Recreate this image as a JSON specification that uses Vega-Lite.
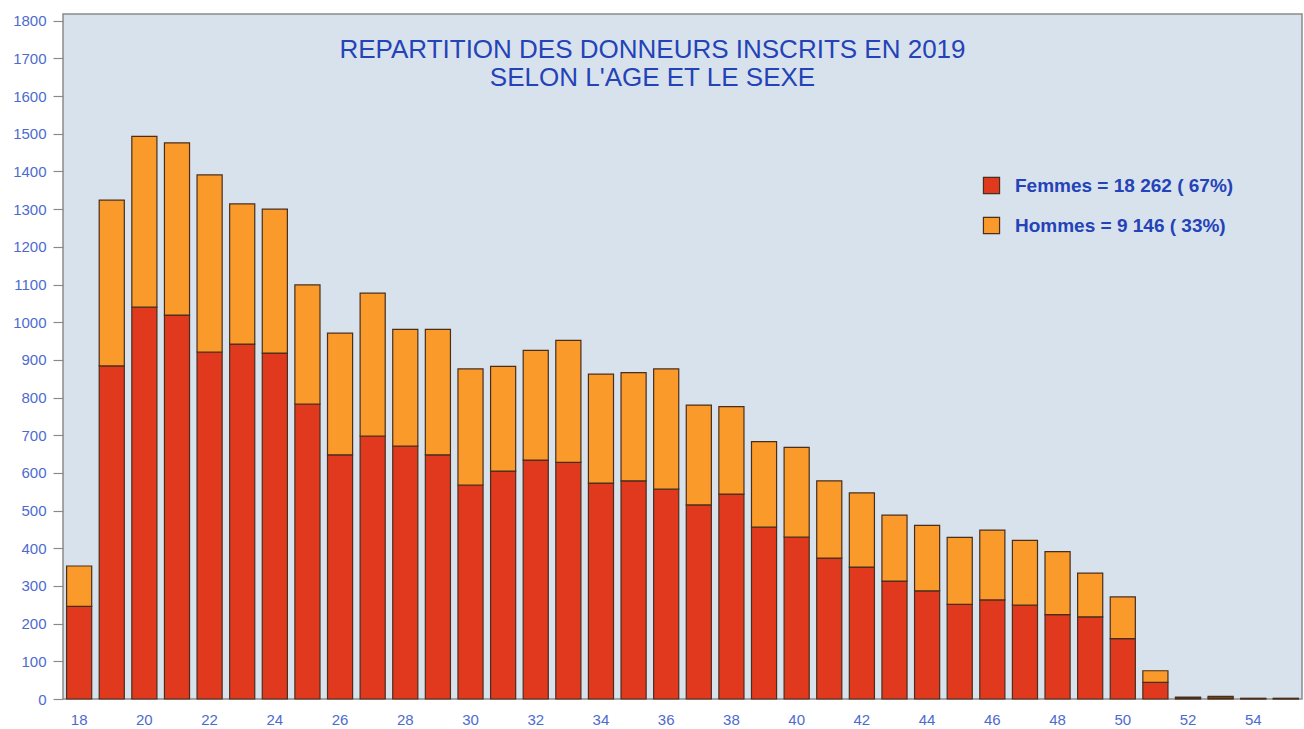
{
  "$schema": "https://vega.github.io/schema/vega-lite/v6.json",
  "width": 1239,
  "height": 685,
  "autosize": "none",
  "padding": {"left": 63, "top": 14, "right": 2, "bottom": 30},
  "background": "#ffffff",
  "title": {
    "text": ["REPARTITION DES DONNEURS INSCRITS EN 2019", "SELON L'AGE ET LE SEXE"],
    "anchor": "middle",
    "frame": "group",
    "orient": "top",
    "baseline": "top",
    "dy": 81,
    "dx": -30,
    "font": "Liberation Sans",
    "fontSize": 26,
    "fontWeight": "normal",
    "color": "#2443B8",
    "lineHeight": 28
  },
  "config": {
    "view": {"fill": "#D8E2EC", "stroke": "#8a8a8a", "strokeWidth": 1.5},
    "font": "Liberation Sans"
  },
  "data": {
    "values": [
      {"age": 18, "sexe": "Femmes", "n": 246}, {"age": 18, "sexe": "Hommes", "n": 107},
      {"age": 19, "sexe": "Femmes", "n": 884}, {"age": 19, "sexe": "Hommes", "n": 440},
      {"age": 20, "sexe": "Femmes", "n": 1040}, {"age": 20, "sexe": "Hommes", "n": 453},
      {"age": 21, "sexe": "Femmes", "n": 1019}, {"age": 21, "sexe": "Hommes", "n": 457},
      {"age": 22, "sexe": "Femmes", "n": 921}, {"age": 22, "sexe": "Hommes", "n": 470},
      {"age": 23, "sexe": "Femmes", "n": 942}, {"age": 23, "sexe": "Hommes", "n": 372},
      {"age": 24, "sexe": "Femmes", "n": 918}, {"age": 24, "sexe": "Hommes", "n": 382},
      {"age": 25, "sexe": "Femmes", "n": 783}, {"age": 25, "sexe": "Hommes", "n": 316},
      {"age": 26, "sexe": "Femmes", "n": 648}, {"age": 26, "sexe": "Hommes", "n": 323},
      {"age": 27, "sexe": "Femmes", "n": 698}, {"age": 27, "sexe": "Hommes", "n": 379},
      {"age": 28, "sexe": "Femmes", "n": 671}, {"age": 28, "sexe": "Hommes", "n": 310},
      {"age": 29, "sexe": "Femmes", "n": 648}, {"age": 29, "sexe": "Hommes", "n": 333},
      {"age": 30, "sexe": "Femmes", "n": 568}, {"age": 30, "sexe": "Hommes", "n": 308},
      {"age": 31, "sexe": "Femmes", "n": 605}, {"age": 31, "sexe": "Hommes", "n": 278},
      {"age": 32, "sexe": "Femmes", "n": 634}, {"age": 32, "sexe": "Hommes", "n": 291},
      {"age": 33, "sexe": "Femmes", "n": 628}, {"age": 33, "sexe": "Hommes", "n": 324},
      {"age": 34, "sexe": "Femmes", "n": 573}, {"age": 34, "sexe": "Hommes", "n": 289},
      {"age": 35, "sexe": "Femmes", "n": 579}, {"age": 35, "sexe": "Hommes", "n": 287},
      {"age": 36, "sexe": "Femmes", "n": 557}, {"age": 36, "sexe": "Hommes", "n": 319},
      {"age": 37, "sexe": "Femmes", "n": 515}, {"age": 37, "sexe": "Hommes", "n": 265},
      {"age": 38, "sexe": "Femmes", "n": 544}, {"age": 38, "sexe": "Hommes", "n": 232},
      {"age": 39, "sexe": "Femmes", "n": 456}, {"age": 39, "sexe": "Hommes", "n": 227},
      {"age": 40, "sexe": "Femmes", "n": 430}, {"age": 40, "sexe": "Hommes", "n": 238},
      {"age": 41, "sexe": "Femmes", "n": 374}, {"age": 41, "sexe": "Hommes", "n": 205},
      {"age": 42, "sexe": "Femmes", "n": 350}, {"age": 42, "sexe": "Hommes", "n": 197},
      {"age": 43, "sexe": "Femmes", "n": 313}, {"age": 43, "sexe": "Hommes", "n": 175},
      {"age": 44, "sexe": "Femmes", "n": 287}, {"age": 44, "sexe": "Hommes", "n": 174},
      {"age": 45, "sexe": "Femmes", "n": 251}, {"age": 45, "sexe": "Hommes", "n": 178},
      {"age": 46, "sexe": "Femmes", "n": 263}, {"age": 46, "sexe": "Hommes", "n": 185},
      {"age": 47, "sexe": "Femmes", "n": 249}, {"age": 47, "sexe": "Hommes", "n": 172},
      {"age": 48, "sexe": "Femmes", "n": 224}, {"age": 48, "sexe": "Hommes", "n": 167},
      {"age": 49, "sexe": "Femmes", "n": 218}, {"age": 49, "sexe": "Hommes", "n": 116},
      {"age": 50, "sexe": "Femmes", "n": 160}, {"age": 50, "sexe": "Hommes", "n": 111},
      {"age": 51, "sexe": "Femmes", "n": 44}, {"age": 51, "sexe": "Hommes", "n": 31},
      {"age": 52, "sexe": "Femmes", "n": 3}, {"age": 52, "sexe": "Hommes", "n": 2},
      {"age": 53, "sexe": "Femmes", "n": 3}, {"age": 53, "sexe": "Hommes", "n": 4},
      {"age": 54, "sexe": "Femmes", "n": 1}, {"age": 54, "sexe": "Hommes", "n": 1},
      {"age": 55, "sexe": "Femmes", "n": 1}, {"age": 55, "sexe": "Hommes", "n": 1}
    ]
  },
  "mark": {"type": "bar", "stroke": "#4a2e1c", "strokeWidth": 1.2},
  "encoding": {
    "x": {
      "field": "age",
      "type": "ordinal",
      "scale": {"paddingInner": 0.23, "paddingOuter": 0.11},
      "axis": {
        "title": null,
        "labelAngle": 0,
        "labelExpr": "datum.value % 2 == 0 ? datum.label : ''",
        "ticks": false,
        "domain": false,
        "labelFont": "Liberation Sans",
        "labelFontSize": 15,
        "labelColor": "#4D6BCF",
        "labelPadding": 13
      }
    },
    "y": {
      "field": "n",
      "type": "quantitative",
      "aggregate": "sum",
      "stack": "zero",
      "scale": {"domain": [0, 1818], "nice": false},
      "axis": {
        "title": null,
        "values": [0, 100, 200, 300, 400, 500, 600, 700, 800, 900, 1000, 1100, 1200, 1300, 1400, 1500, 1600, 1700, 1800],
        "format": "d",
        "grid": false,
        "domain": false,
        "tickColor": "#8a8a8a",
        "tickSize": 10,
        "tickWidth": 1.2,
        "labelFont": "Liberation Sans",
        "labelFontSize": 15,
        "labelColor": "#4D6BCF",
        "labelPadding": 7
      }
    },
    "color": {
      "field": "sexe",
      "type": "nominal",
      "scale": {"domain": ["Femmes", "Hommes"], "range": ["#E0391D", "#F99A2B"]},
      "legend": {
        "title": null,
        "orient": "none",
        "legendX": 919,
        "legendY": 162,
        "symbolType": "square",
        "symbolSize": 260,
        "symbolStrokeColor": "#4a2e1c",
        "symbolStrokeWidth": 1.2,
        "symbolOpacity": 1,
        "labelFont": "Liberation Sans",
        "labelFontSize": 19,
        "labelFontWeight": "bold",
        "labelColor": "#2443B8",
        "labelOffset": 14,
        "labelLimit": 0,
        "rowPadding": 19,
        "labelExpr": "datum.label == 'Femmes' ? 'Femmes = 18 262 ( 67%)' : 'Hommes = 9 146 ( 33%)'"
      }
    },
    "order": {"field": "sexe", "sort": "ascending"}
  }
}
